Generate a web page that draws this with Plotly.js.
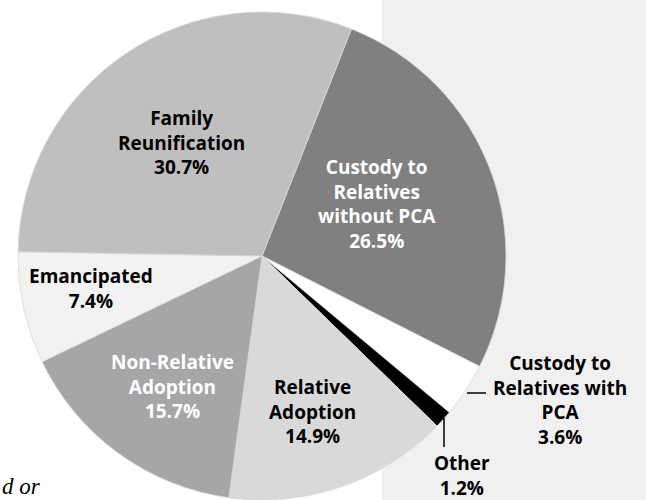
<!DOCTYPE html>
<html>
<head>
<meta charset="utf-8">
<script src="https://cdn.plot.ly/plotly-3.0.1.min.js"></script>
<style>
  body { margin: 0; padding: 0; background: #ffffff; }
  #plot-area { width: 646px; height: 500px; }
</style>
</head>
<body>
<div id="plot-area"></div>
<script>
// exit categories, clockwise from the first slice
var categories = ["Custody to Relatives without PCA", "Custody to Relatives with PCA", "Other",
                  "Relative Adoption", "Non-Relative Adoption", "Emancipated", "Family Reunification"];
var wrapped = ["Custody to<br>Relatives<br>without PCA", "Custody to<br>Relatives with<br>PCA", "Other",
               "Relative<br>Adoption", "Non-Relative<br>Adoption", "Emancipated", "Family<br>Reunification"];
var percents = [26.5, 3.6, 1.2, 14.9, 15.7, 7.4, 30.7];

var sliceColors = ["#808080", "#ffffff", "#000000", "#d9d9d9", "#a6a6a6", "#f2f2f2", "#bfbfbf"];
var textColors = ["#ffffff", "#000000", "#000000", "#000000", "#ffffff", "#000000", "#000000"];
// label centres in pixels (x from left, y from top)
var labelPos = [[377, 204], [560, 400], [462, 475], [312, 411], [172, 386], [91, 288], [182, 142]];

var W = 646, H = 500;

function UpdatePlot() {
    var data = [{
        type: "pie",
        labels: categories,
        values: percents,
        sort: false,
        direction: "clockwise",
        rotation: 21.5,
        textinfo: "none",
        hoverinfo: "label+percent",
        marker: {colors: sliceColors, line: {color: "#d9d9d9", width: 0.8}},
        domain: {x: [18 / W, 506 / W], y: [0, 488 / H]},
        showlegend: false
    }];

    var annotations = [];
    for (var i = 0; i < categories.length; i++) {
        annotations.push({
            xref: "paper", yref: "paper",
            x: labelPos[i][0] / W, y: 1 - labelPos[i][1] / H,
            xanchor: "center", yanchor: "middle",
            text: "<b>" + wrapped[i] + "<br>" + percents[i].toFixed(1) + "%</b>",
            showarrow: false,
            font: {family: "Open Sans, sans-serif", size: 19, color: textColors[i]}
        });
    }
    // note text at bottom left (tail of a longer caption)
    annotations.push({
        xref: "paper", yref: "paper", x: 0, y: 1 - 486 / H,
        xanchor: "left", yanchor: "middle", showarrow: false,
        text: "<i>d or</i>",
        font: {family: "Liberation Serif, serif", size: 23, color: "#000000"}
    });

    var layout = {
        width: W, height: H,
        margin: {l: 0, r: 0, t: 0, b: 0},
        paper_bgcolor: "#ffffff",
        showlegend: false,
        annotations: annotations,
        shapes: [
            {type: "rect", xref: "paper", yref: "paper", x0: 382 / W, x1: 1, y0: 0, y1: 1,
             fillcolor: "#f0f0f0", line: {width: 0}, layer: "below"},
            {type: "line", xref: "paper", yref: "paper", x0: 467 / W, x1: 486 / W,
             y0: 1 - 393 / H, y1: 1 - 393 / H, line: {color: "#000000", width: 1.5}},
            {type: "line", xref: "paper", yref: "paper", x0: 444 / W, x1: 444 / W,
             y0: 1 - 418 / H, y1: 1 - 447 / H, line: {color: "#000000", width: 1.5}}
        ]
    };

    Plotly.newPlot("plot-area", data, layout, {displayModeBar: false});
}

UpdatePlot();
</script>
</body>
</html>
